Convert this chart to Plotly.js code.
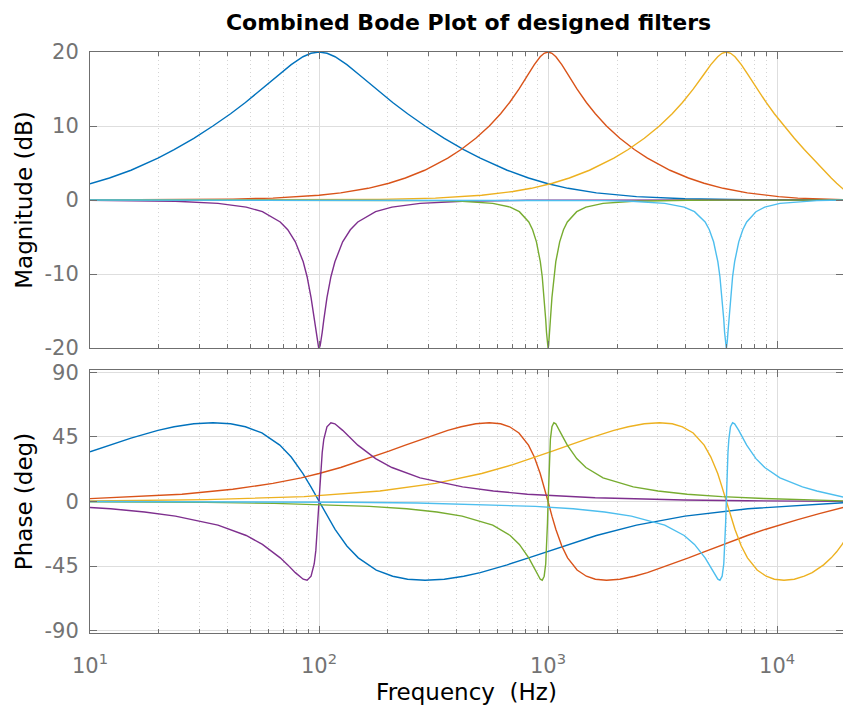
<!DOCTYPE html>
<html>
<head>
<meta charset="utf-8">
<script src="https://cdn.plot.ly/plotly-3.0.1.min.js"></script>
<style>html,body{margin:0;padding:0;background:#fff;overflow:hidden;}#chart{width:843px;height:713px;}</style>
</head>
<body>
<div id="chart"></div>
<script>
// ---- Data (frequency in Hz, magnitude in dB, phase in degrees) ----
// Boost 100 Hz (blue)
const fBlue = [10, 12.16, 15.1, 19.8, 23.3, 28.4, 34.4, 41.1, 47.7, 56.3, 67.4, 75.6, 85.1, 92.2, 100, 108.4, 117.5, 132.3, 148.4, 177.8, 209.7, 243.6, 290.4, 352.4, 428.3, 505.8, 663, 822, 1000, 1223, 1626, 2434, 3960, 7455, 12455, 17267, 20000];
const magBlue = [2.20, 2.97, 4.02, 5.65, 6.82, 8.34, 10.0, 11.66, 13.18, 14.98, 17.03, 18.29, 19.36, 19.83, 20, 19.83, 19.36, 18.29, 17.03, 14.98, 13.18, 11.66, 10.0, 8.34, 6.82, 5.65, 4.02, 2.97, 2.20, 1.58, 0.96, 0.45, 0.17, 0.04, 0.01, 0.003, 0];
const phBlue = [34.7, 39.3, 44.2, 49.6, 52.1, 54.2, 54.9, 54.2, 52.1, 47.8, 39.3, 31.0, 19.5, 10.2, 0, -10.2, -19.5, -31.0, -39.3, -47.8, -52.1, -54.2, -54.9, -54.2, -52.1, -49.6, -44.2, -39.3, -34.7, -29.9, -23.7, -16.5, -10.2, -5.1, -2.6, -1.3, -0.7];

// Boost 1 kHz (orange)
const fOrange = [10, 17.6, 25.2, 42.0, 62.9, 83.6, 100, 124.3, 163.8, 201.9, 238.2, 289.3, 364.9, 417.2, 483.6, 553.9, 620.8, 679.5, 746.2, 821.4, 871, 924, 961.2, 1000, 1040, 1082, 1148, 1217, 1339, 1470, 1609, 1799, 2058, 2381, 2716, 3406, 4103, 4799, 5818, 7413, 8862, 10159, 12315, 15287, 18390, 20000];
const magOrange = [0.01, 0.02, 0.04, 0.12, 0.26, 0.45, 0.64, 0.96, 1.58, 2.26, 2.97, 4.02, 5.65, 6.82, 8.34, 10.0, 11.66, 13.18, 14.98, 17.03, 18.29, 19.36, 19.83, 20, 19.83, 19.36, 18.29, 17.03, 14.98, 13.18, 11.66, 10.0, 8.34, 6.82, 5.65, 4.02, 2.97, 2.26, 1.58, 0.96, 0.64, 0.45, 0.26, 0.12, 0.04, 0.02];
const phOrange = [2.0, 3.6, 5.1, 8.5, 12.6, 16.5, 19.5, 23.7, 29.9, 35.1, 39.3, 44.2, 49.6, 52.1, 54.2, 54.9, 54.2, 52.1, 47.8, 39.3, 31.0, 19.5, 10.2, 0, -10.2, -19.5, -31.0, -39.3, -47.8, -52.1, -54.2, -54.9, -54.2, -52.1, -49.6, -44.2, -39.3, -35.1, -29.9, -23.7, -19.5, -16.5, -12.6, -8.5, -5.1, -3.6];

// Boost 6 kHz (yellow)
const fYellow = [10, 32.3, 86.1, 184.4, 322.1, 513.2, 702, 844.8, 1045, 1239, 1516, 1938, 2239, 2633, 3063, 3484, 3862, 4302, 4804, 5138, 5506, 5746, 6000, 6270, 6550, 6978, 7425, 8182, 8961, 9728, 10718, 11891, 13143, 14234, 15962, 17236, 18197, 19234, 20000];
const magYellow = [0, 0, 0.02, 0.09, 0.26, 0.64, 1.14, 1.58, 2.26, 2.97, 4.02, 5.65, 6.82, 8.34, 10.0, 11.66, 13.18, 14.98, 17.03, 18.29, 19.36, 19.83, 20, 19.83, 19.36, 18.29, 17.03, 14.98, 13.18, 11.66, 10.0, 8.34, 6.82, 5.65, 4.02, 2.97, 2.26, 1.58, 1.14];
const phYellow = [0.4, 1.3, 3.4, 7.3, 12.6, 19.5, 25.7, 29.9, 35.1, 39.3, 44.2, 49.6, 52.1, 54.2, 54.9, 54.2, 52.1, 47.8, 39.3, 31.0, 19.5, 10.2, 0, -10.2, -19.5, -31.0, -39.3, -47.8, -52.1, -54.2, -54.9, -54.2, -52.1, -49.6, -44.2, -39.3, -35.1, -29.9, -25.7];

// Cut 100 Hz (purple)
const fPurple = [10, 12.3, 17.3, 23.6, 36.2, 48.1, 56.6, 67.7, 73.0, 78.8, 85.3, 88.7, 92.3, 95.3, 96.85, 98.0, 98.8, 99.6, 100, 100.4, 101.2, 102.0, 103.25, 104.9, 108.3, 112.7, 117.3, 126.8, 137.0, 147.7, 176.6, 208.1, 276.2, 423.6, 577, 812, 1606, 3914, 7369, 15339, 20000];
const magPurple = [-0.03, -0.04, -0.09, -0.17, -0.45, -0.96, -1.58, -2.97, -4.02, -5.65, -8.34, -10.37, -13.18, -16.19, -17.88, -19.04, -19.63, -19.96, -20, -19.96, -19.63, -19.04, -17.88, -16.19, -13.18, -10.37, -8.34, -5.65, -4.02, -2.97, -1.58, -0.96, -0.45, -0.17, -0.09, -0.04, -0.01, 0, 0, 0, 0];
const phPurple = [-4.2, -5.1, -7.3, -10.2, -16.5, -23.7, -29.9, -39.3, -44.2, -49.6, -54.2, -54.9, -52.1, -43.4, -34.1, -23.7, -15.0, -5.1, 0, 5.1, 15.0, 23.7, 34.1, 43.4, 52.1, 54.9, 54.2, 49.6, 44.2, 39.3, 29.9, 23.7, 16.5, 10.2, 7.3, 5.1, 2.6, 1.0, 0.5, 0.2, 0.1];

// Cut 1 kHz (green)
const fGreen = [10, 17.6, 32.0, 63.8, 101.5, 166.2, 241.5, 327.1, 421.6, 573.5, 683.4, 749.4, 823.8, 856.1, 889.8, 925, 943.2, 961.8, 976.9, 984.5, 990.3, 994.2, 998, 1000, 1002, 1005.9, 1009.8, 1015.7, 1023.7, 1039.8, 1060.2, 1081, 1123.8, 1168, 1213.8, 1334, 1463, 1738.6, 2356, 3021, 4051, 5741, 8760, 12201, 17058, 20000];
const magGreen = [0, 0, 0, 0, -0.01, -0.02, -0.04, -0.09, -0.17, -0.45, -0.96, -1.58, -2.97, -4.02, -5.65, -8.34, -10.37, -13.18, -16.19, -17.88, -19.04, -19.63, -19.96, -20, -19.96, -19.63, -19.04, -17.88, -16.19, -13.18, -10.37, -8.34, -5.65, -4.02, -2.97, -1.58, -0.96, -0.45, -0.17, -0.09, -0.04, -0.02, -0.01, 0, 0, 0];
const phGreen = [-0.2, -0.35, -0.6, -1.3, -2.1, -3.4, -5.1, -7.3, -10.2, -16.5, -23.7, -29.9, -39.3, -44.2, -49.6, -54.2, -54.9, -52.1, -43.4, -34.1, -23.7, -15.0, -5.1, 0, 5.1, 15.0, 23.7, 34.1, 43.4, 52.1, 54.9, 54.2, 49.6, 44.2, 39.3, 29.9, 23.7, 16.5, 10.2, 7.3, 5.1, 3.4, 2.1, 1.3, 0.6, 0.35];

// Cut 6 kHz (light blue)
const fCyan = [10, 44.9, 134.6, 268.8, 534.6, 703.3, 879.5, 1287.6, 1764.7, 2310.8, 3232.6, 3929.6, 4359, 4851, 5059, 5281, 5512, 5629, 5756, 5851.9, 5899.4, 5936.9, 5962, 5987.4, 6000, 6012.7, 6038.2, 6063.8, 6102.5, 6158, 6258.6, 6393, 6527, 6802, 7084.6, 7367, 8087, 8833, 10293, 12906, 14913, 17013, 19045, 20000];
const magCyan = [0, 0, 0, 0, -0.01, -0.01, -0.02, -0.04, -0.09, -0.17, -0.45, -0.96, -1.58, -2.97, -4.02, -5.65, -8.34, -10.37, -13.18, -16.19, -17.88, -19.04, -19.63, -19.96, -20, -19.96, -19.63, -19.04, -17.88, -16.19, -13.18, -10.37, -8.34, -5.65, -4.02, -2.97, -1.58, -0.96, -0.45, -0.17, -0.09, -0.04, -0.02, -0.01];
const phCyan = [0, -0.2, -0.5, -1.0, -2.1, -2.7, -3.4, -5.1, -7.3, -10.2, -16.5, -23.7, -29.9, -39.3, -44.2, -49.6, -54.2, -54.9, -52.1, -43.4, -34.1, -23.7, -15.0, -5.1, 0, 5.1, 15.0, 23.7, 34.1, 43.4, 52.1, 54.9, 54.2, 49.6, 44.2, 39.3, 29.9, 23.7, 16.5, 10.2, 7.3, 5.1, 3.4, 2.7];

// Tick labels
const xTickVals = [10, 100, 1000, 10000];
const xTickText = ['10<sup>1</sup>', '10<sup>2</sup>', '10<sup>3</sup>', '10<sup>4</sup>'];
const xMinorVals = [20, 30, 40, 50, 60, 70, 80, 90, 200, 300, 400, 500, 600, 700, 800, 900, 2000, 3000, 4000, 5000, 6000, 7000, 8000, 9000];
const magTicks = [-20, -10, 0, 10, 20];
const magTickText = ['-20', '-10', '0', '10', '20'];
const phTicks = [-90, -45, 0, 45, 90];
const phTickText = ['-90', '-45', '0', '45', '90'];

// ---- Styling ----
const series = [
  {f: fBlue, m: magBlue, p: phBlue, c: '#0072BD'},
  {f: fOrange, m: magOrange, p: phOrange, c: '#D95319'},
  {f: fYellow, m: magYellow, p: phYellow, c: '#EDB120'},
  {f: fPurple, m: magPurple, p: phPurple, c: '#7E2F8E'},
  {f: fGreen, m: magGreen, p: phGreen, c: '#77AC30'},
  {f: fCyan, m: magCyan, p: phCyan, c: '#4DBEEE'}
];

const traces = [];
series.forEach(s => traces.push({x: s.f, y: s.m, xaxis: 'x', yaxis: 'y', type: 'scatter', mode: 'lines', line: {color: s.c, width: 1.4}, hoverinfo: 'skip'}));
series.forEach(s => traces.push({x: s.f, y: s.p, xaxis: 'x2', yaxis: 'y2', type: 'scatter', mode: 'lines', line: {color: s.c, width: 1.4}, hoverinfo: 'skip'}));

const FONT = 'DejaVu Sans, Liberation Sans, Arial, sans-serif';
const axisLine = '#6f6f6f';
const tickFont = {family: FONT, size: 21, color: '#737373'};

function xAxis(anchor, labels) {
  return {
    type: 'log', range: [1, Math.log10(19400)], anchor: anchor,
    tickmode: 'array', tickvals: xTickVals, ticktext: xTickText,
    showticklabels: labels, tickfont: tickFont,
    ticks: 'inside', ticklen: 7, tickcolor: axisLine, tickwidth: 1,
    showline: true, linecolor: axisLine, linewidth: 1, mirror: 'ticks',
    showgrid: true, gridcolor: '#dedede', gridwidth: 1, zeroline: false,
    minor: {tickmode: 'array', tickvals: xMinorVals, ticks: 'inside', ticklen: 4, tickcolor: axisLine,
            showgrid: true, gridcolor: '#d4d4d4', griddash: '1px,3px', gridwidth: 1},
    ticklabelstandoff: 14
  };
}

const layout = {
  width: 843, height: 713,
  margin: {l: 90, r: 0, t: 52, b: 80},
  paper_bgcolor: '#ffffff', plot_bgcolor: '#ffffff',
  showlegend: false,
  font: {family: FONT, color: '#000000'},
  title: {text: '<b>Combined Bode Plot of designed filters</b>', font: {family: FONT, size: 22, color: '#000000'},
          xref: 'container', x: 0.5558, xanchor: 'center', yref: 'container', y: 0.969, yanchor: 'middle'},
  xaxis: xAxis('y', false),
  xaxis2: Object.assign(xAxis('y2', true), {matches: 'x',
          title: {text: 'Frequency \u00a0(Hz)', font: {family: FONT, size: 23, color: '#000000'}, standoff: 6}}),
  yaxis: {domain: [0.49053, 1], range: [-20, 20], anchor: 'x', tickmode: 'array', tickvals: magTicks, ticktext: magTickText,
          tickfont: tickFont, ticks: 'inside', ticklen: 7, tickcolor: axisLine,
          showline: true, linecolor: axisLine, mirror: 'ticks', showgrid: true, gridcolor: '#dedede', zeroline: false,
          ticklabelstandoff: 6,
          title: {text: 'Magnitude (dB)', font: {family: FONT, size: 23, color: '#000000'}, standoff: 5}},
  yaxis2: {domain: [0, 0.45267], range: [-91.7, 91.7], anchor: 'x2', tickmode: 'array', tickvals: phTicks, ticktext: phTickText,
          tickfont: tickFont, ticks: 'inside', ticklen: 7, tickcolor: axisLine,
          showline: true, linecolor: axisLine, mirror: 'ticks', showgrid: true, gridcolor: '#dedede', zeroline: false,
          ticklabelstandoff: 6,
          title: {text: 'Phase (deg)', font: {family: FONT, size: 23, color: '#000000'}, standoff: 5}}
};

Plotly.newPlot('chart', traces, layout, {staticPlot: true, displayModeBar: false});
</script>
</body>
</html>
